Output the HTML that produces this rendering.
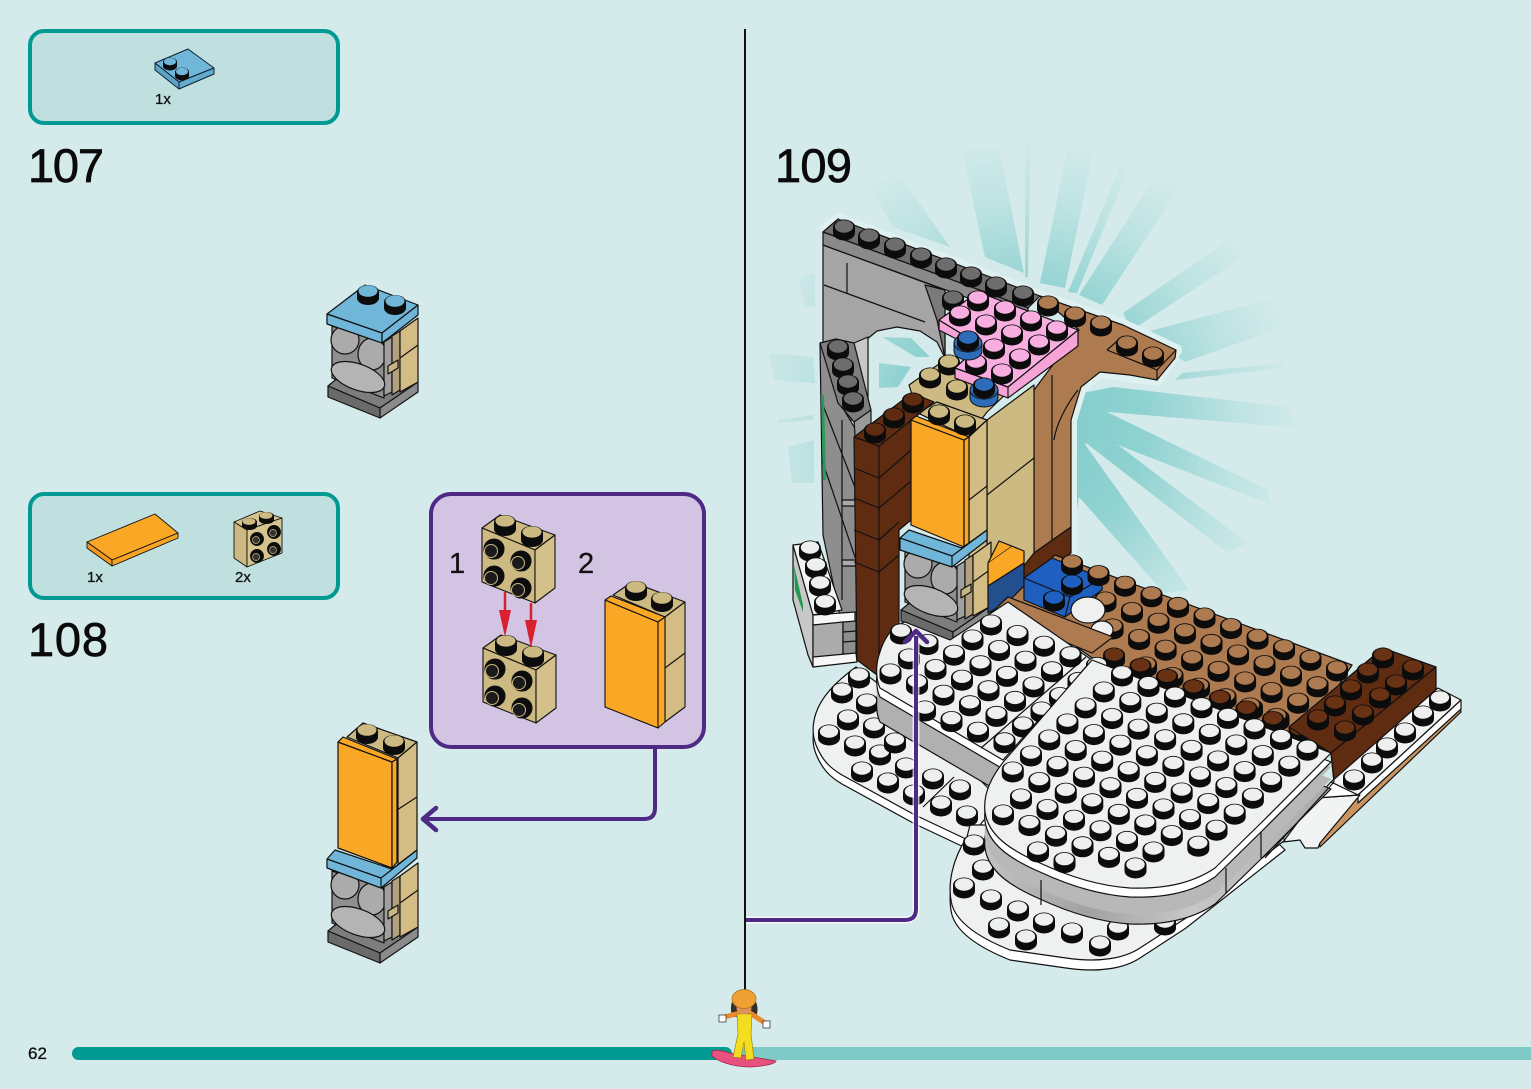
<!DOCTYPE html>
<html><head><meta charset="utf-8"><style>
html,body{margin:0;padding:0;background:#d4eaeb;}
svg{display:block;font-family:"Liberation Sans",sans-serif;}
</style></head><body>
<svg width="1531" height="1089" viewBox="0 0 1531 1089" xmlns="http://www.w3.org/2000/svg">
<defs>
<radialGradient id="ray" gradientUnits="userSpaceOnUse" cx="1020" cy="420" r="300">
<stop offset="0" stop-color="#7ecbca"/><stop offset=".42" stop-color="#8fd2d1"/><stop offset=".72" stop-color="#bde3e2"/><stop offset=".95" stop-color="#d4eaeb"/></radialGradient>
<linearGradient id="gw" gradientUnits="userSpaceOnUse" x1="980" y1="0" x2="1335" y2="0">
<stop offset="0" stop-color="#c4c4c4"/><stop offset=".3" stop-color="#a2a2a2"/><stop offset=".6" stop-color="#c8c8c8"/><stop offset="1" stop-color="#a8a8a8"/></linearGradient>
<g id="s"><path d="M-11,0v6a11,7.5 0 0 0 22,0v-6a11,7.5 0 0 0 -22,0z" fill="#0c0c0c"/><ellipse cy="-.5" rx="9.2" ry="6.2"/></g>
<g id="r2"><use href="#s"/><use href="#s" x="26.5" y="10.6"/></g>
<g id="r3"><use href="#r2"/><use href="#s" x="53" y="21.2"/></g>
<g id="r4"><use href="#r3"/><use href="#s" x="79.5" y="31.8"/></g>
<g id="r5"><use href="#r4"/><use href="#s" x="106" y="42.4"/></g>
<g id="r6"><use href="#r5"/><use href="#s" x="132.5" y="53"/></g>
<g id="r7"><use href="#r6"/><use href="#s" x="159" y="63.6"/></g>
<g id="r8"><use href="#r7"/><use href="#s" x="185.5" y="74.2"/></g>
<g id="r9"><use href="#r8"/><use href="#s" x="212" y="84.8"/></g>
<g id="r11"><use href="#r9"/><use href="#s" x="238.5" y="95.4"/><use href="#s" x="265" y="106"/></g>
<path id="Fp" d="M1331,753L1092,660L1005,760C990,778 983,795 985,812C988,835 1010,850 1040,863C1070,877 1100,886 1130,888C1160,889 1190,885 1215,868L1261,823Z"/>
<path id="Ep" d="M905,622L950,640L1008,602L1092,660L1003,760L880,688C876,680 875,665 880,652C885,635 895,625 905,622Z"/>
<path id="Gp" d="M967,837C952,860 947,885 952,905C958,925 985,940 1010,950L1066,958C1100,963 1125,958 1140,948L1186,918L1285,840L1270,825L970,825Z"/>
<path id="Hp" d="M856,667C838,680 822,695 816,713C812,725 812,735 816,745C822,760 830,768 842,775L915,815L968,840L1000,800L900,700Z"/>
<g id="stack" stroke="#111" stroke-width="1.2" stroke-linejoin="round">
<polygon points="328,386 340,376 418,382 380,408" fill="#7d7d7d"/>
<polygon points="328,386 380,408 380,418 328,397" fill="#6a6a6a"/>
<polygon points="380,408 418,382 418,392 380,418" fill="#8b8b8b"/>
<polygon points="332,326 384,343 384,398 332,378" fill="#8f8f8f"/>
<ellipse cx="345" cy="340" rx="14" ry="14" fill="#ababab"/>
<ellipse cx="372" cy="354" rx="14" ry="16" fill="#ababab"/>
<polygon points="384,342 392,337 392,392 384,396" fill="#a0a0a0"/>
<polygon points="392,336 400,331 400,390 392,395" fill="#b3a07c"/>
<polygon points="400,331 418,318 418,382 400,392" fill="#d4bd84"/>
<line x1="400" y1="358" x2="418" y2="345"/>
<polygon points="388,366 398,360 398,368 388,374" fill="#c8b586"/>
<ellipse cx="358" cy="377" rx="28" ry="13" transform="rotate(20 358 377)" fill="#b4b4b4"/>
</g>
<g id="brick" stroke="#111" stroke-width="1.1" stroke-linejoin="round">
<polygon points="482,528 500,515 555,535 535,550" fill="#cdb982"/>
<polygon points="482,528 535,550 535,603 482,582" fill="#cdb982"/>
<polygon points="535,550 555,535 555,588 535,603" fill="#d3c08a"/>
<g stroke="none"><path d="M494,522v7a11,7 0 0 0 22,0v-7a11,7 0 0 0 -22,0z" fill="#0c0c0c"/><ellipse cx="505" cy="521" rx="9.5" ry="5.6" fill="#cdb982"/><path d="M521,533v7a11,7 0 0 0 22,0v-7a11,7 0 0 0 -22,0z" fill="#0c0c0c"/><ellipse cx="532" cy="532" rx="9.5" ry="5.6" fill="#cdb982"/></g>
<g fill="#0c0c0c"><circle cx="494" cy="549" r="10"/><circle cx="521" cy="561" r="10"/><circle cx="494" cy="576" r="10"/><circle cx="521" cy="588" r="10"/></g>
<g fill="#1a1a1a" stroke="#cdb982" stroke-width="1"><circle cx="491" cy="551" r="6.5"/><circle cx="518" cy="563" r="6.5"/><circle cx="491" cy="578" r="6.5"/><circle cx="518" cy="590" r="6.5"/></g>
</g>
</defs>
<rect width="1531" height="1089" fill="#d4eaeb"/>

<!-- rays -->
<g fill="url(#ray)">
<polygon points="870,187 898,173 950,247 893,227"/>
<polygon points="962,150 999,147 1024,273 985,257"/>
<polygon points="1025,140 1031,140 1028,277 1025,277"/>
<polygon points="1068,147 1095,143 1065,288 1040,283"/>
<polygon points="1123,160 1132,160 1077,293 1068,292"/>
<polygon points="1155,177 1182,183 1102,305 1079,295"/>
<polygon points="1233,237 1249,253 1132,330 1123,313"/>
<polygon points="1279,297 1283,327 1185,362 1146,332"/>
<polygon points="1283,363 1283,368 1175,380 1182,373"/>
<polygon points="1072,395 1113,387 1288,407 1297,428 1109,412 1072,425"/>
<polygon points="1072,410 1109,413 1268,490 1272,505 1118,445 1086,443 1072,470"/>
<polygon points="1118,445 1247,543 1228,553 1086,443"/>
<polygon points="1072,450 1084,443 1189,590 1164,593 1079,497 1072,540"/>
<polygon points="769,353 813,357 815,383 774,380"/>
<polygon points="778,420 813,415 813,420 778,423"/>
<polygon points="788,447 814,440 814,483 792,483"/>
<polygon points="797,277 815,273 815,307 806,307"/>
<polygon points="879,363 911,367 898,387 879,388"/>
<polygon points="882,337 911,338 930,357 916,357"/>
</g>
<polyline points="823,232 838,219 1040,296 1123,325 1176,350 1157,380 1100,372 1081,387 1071,420 1071,560" fill="none" stroke="#dff0f0" stroke-width="12" stroke-linejoin="round"/>

<!-- page furniture: panels -->
<rect x="30" y="31" width="308" height="92" rx="14" fill="#bfe0df" stroke="#009a93" stroke-width="4"/>
<rect x="30" y="494" width="308" height="104" rx="14" fill="#bfe0df" stroke="#009a93" stroke-width="4"/>
<rect x="431" y="494" width="273" height="253" rx="20" fill="#d2c4e2" stroke="#4f2a84" stroke-width="4"/>

<g fill="#0a0a0a" stroke="#0a0a0a" stroke-width=".7">
<text x="28" y="182" font-size="47" textLength="76">107</text>
<text x="28" y="656" font-size="47" textLength="80">108</text>
<text x="775" y="182" font-size="47" textLength="77">109</text>
</g>
<g fill="#111" stroke="#111" stroke-width=".3">
<text x="28" y="1059" font-size="17">62</text>
<text x="155" y="104" font-size="15">1x</text>
<text x="87" y="582" font-size="15">1x</text>
<text x="235" y="582" font-size="15">2x</text>
<text x="449" y="573" font-size="29">1</text>
<text x="578" y="573" font-size="29">2</text>
</g>

<!-- parts 107 -->
<g stroke="#123" stroke-width="1" stroke-linejoin="round">
<polygon points="155,63 188,49 214,68 179,82" fill="#6fb6d8"/>
<polygon points="155,63 179,82 179,89 155,70" fill="#5da5c8"/>
<polygon points="179,82 214,68 214,74 179,89" fill="#62abcd"/>
<g stroke="none"><path d="M163,62v4a7,4.5 0 0 0 14,0v-4a7,4.5 0 0 0 -14,0z" fill="#0c0c0c"/><ellipse cx="170" cy="61.5" rx="6" ry="3.8" fill="#6fb6d8"/><path d="M175,72v4a7,4.5 0 0 0 14,0v-4a7,4.5 0 0 0 -14,0z" fill="#0c0c0c"/><ellipse cx="182" cy="71.5" rx="6" ry="3.8" fill="#6fb6d8"/></g>
</g>
<!-- parts 108 -->
<g stroke="#111" stroke-width=".9" stroke-linejoin="round">
<polygon points="87,542 155,514 178,533 112,560" fill="#fba726"/>
<polygon points="87,542 112,560 112,566 87,548" fill="#f29a1c"/>
<polygon points="112,560 178,533 178,538 112,566" fill="#f7a424"/>
<polygon points="234,522 260,511 282,518 247,530" fill="#d6c48f"/>
<polygon points="234,522 247,530 247,567 234,558" fill="#cdb982"/>
<polygon points="247,530 282,518 282,553 247,567" fill="#d6c48f"/>
<g stroke="none"><path d="M242,522v4a7.5,4 0 0 0 15,0v-4a7.5,4 0 0 0 -15,0z" fill="#0c0c0c"/><ellipse cx="249" cy="521.5" rx="6.5" ry="3.4" fill="#cdb982"/><path d="M259,516v4a7.5,4 0 0 0 15,0v-4a7.5,4 0 0 0 -15,0z" fill="#0c0c0c"/><ellipse cx="266" cy="515.5" rx="6.5" ry="3.4" fill="#cdb982"/></g>
<g fill="#0c0c0c"><circle cx="257" cy="539" r="6.5"/><circle cx="274" cy="532" r="6.5"/><circle cx="257" cy="556" r="6.5"/><circle cx="274" cy="549" r="6.5"/></g>
<g fill="#333" stroke="#cdb982" stroke-width=".7"><circle cx="256" cy="540" r="3.5"/><circle cx="273" cy="533" r="3.5"/><circle cx="256" cy="557" r="3.5"/><circle cx="273" cy="550" r="3.5"/></g>
</g>

<!-- step 107 assembly -->
<use href="#stack"/>
<g stroke="#111" stroke-width="1.2" stroke-linejoin="round">
<polygon points="327,314 365,285 418,305 382,333" fill="#6fb6d8"/>
<polygon points="327,314 382,333 382,343 327,324" fill="#6fb6d8"/>
<polygon points="382,333 418,305 418,315 382,343" fill="#6fb6d8"/>
<g stroke="none"><path d="M357,292v6a11,7 0 0 0 22,0v-6a11,7 0 0 0 -22,0z" fill="#0c0c0c"/><ellipse cx="368" cy="291" rx="9.5" ry="5.8" fill="#6fb6d8"/><path d="M384,302v6a11,7 0 0 0 22,0v-6a11,7 0 0 0 -22,0z" fill="#0c0c0c"/><ellipse cx="395" cy="301" rx="9.5" ry="5.8" fill="#6fb6d8"/></g>
</g>

<!-- step 108 assembly -->
<use href="#stack" y="545"/>
<g stroke="#111" stroke-width="1.2" stroke-linejoin="round">
<polygon points="347,737 363,723 417,742 398,758" fill="#cdb982"/>
<polygon points="398,758 417,742 417,850 398,866" fill="#d4bd84"/>
<line x1="397" y1="810" x2="417" y2="797"/>
<polygon points="338,742 392,762 392,868 338,848" fill="#fba726"/>
<polygon points="338,742 343,737 397,759 392,762" fill="#fba726"/>
<polygon points="392,762 397,759 397,862 392,868" fill="#fba726"/>
<polygon points="327,859 335,850 392,869 417,850 417,858 381,888 327,868" fill="#6fb6d8"/>
<polyline points="327,859 381,878 417,850" fill="none"/><line x1="381" y1="878" x2="381" y2="888"/>
<g stroke="none"><path d="M356,731v6a11,7 0 0 0 22,0v-6a11,7 0 0 0 -22,0z" fill="#0c0c0c"/><ellipse cx="367" cy="730" rx="9.5" ry="5.8" fill="#cdb982"/><path d="M383,742v6a11,7 0 0 0 22,0v-6a11,7 0 0 0 -22,0z" fill="#0c0c0c"/><ellipse cx="394" cy="741" rx="9.5" ry="5.8" fill="#cdb982"/></g>
</g>

<!-- callout -->
<use href="#brick"/>
<use href="#brick" x="1" y="120"/>
<g stroke="#d8202f" stroke-width="2.5" fill="#d8202f">
<line x1="505" y1="592" x2="505" y2="620"/><polygon points="499,610 511,610 505,637" stroke="none"/>
<line x1="531" y1="603" x2="531" y2="630"/><polygon points="525,620 537,620 531,648" stroke="none"/>
</g>
<g stroke="#111" stroke-width="1.1" stroke-linejoin="round">
<polygon points="613,595 632,582 685,602 665,617" fill="#cdb982"/>
<polygon points="665,617 685,602 685,707 665,722" fill="#d4bd84"/>
<line x1="665" y1="668" x2="685" y2="653"/>
<polygon points="605,600 658,622 658,728 605,707" fill="#fba726"/>
<polygon points="605,600 611,596 665,617 658,622" fill="#fba726"/>
<polygon points="658,622 665,617 665,722 658,728" fill="#fba726"/>
<g stroke="none"><path d="M625,588v6a11,7 0 0 0 22,0v-6a11,7 0 0 0 -22,0z" fill="#0c0c0c"/><ellipse cx="636" cy="587" rx="9.5" ry="5.8" fill="#cdb982"/><path d="M651,599v6a11,7 0 0 0 22,0v-6a11,7 0 0 0 -22,0z" fill="#0c0c0c"/><ellipse cx="662" cy="598" rx="9.5" ry="5.8" fill="#cdb982"/></g>
</g>
<path d="M655,749V808Q655,819 644,819H424" fill="none" stroke="#4f2a84" stroke-width="4"/>
<polyline points="436,808 423,819 436,830" fill="none" stroke="#4f2a84" stroke-width="4.5" stroke-linecap="round" stroke-linejoin="round"/>

<!-- step 109 model -->
<g stroke="#111" stroke-width="1.2" stroke-linejoin="round">
<!-- back wall -->
<polygon points="823,245 945,290 945,358 937,342 920,331 897,327 877,331 866,340 866,420 823,420" fill="#a5a5a5"/>
<polygon points="925,285 945,290 945,358 937,320" fill="#7a7a7a"/>
<line x1="847" y1="263" x2="847" y2="293"/><line x1="824" y1="285" x2="925" y2="322"/>
<polygon points="823,232 838,219 1040,296 1028,308" fill="#6d6d6d"/>
<polygon points="823,232 1028,308 1028,320 823,245" fill="#8a8a8a"/>
<!-- left column -->
<polygon points="854,343 868,337 868,398 860,400" fill="#c8c8c8"/>
<polygon points="820,343 838,400 856,430 858,660 845,640 823,535" fill="#8e8e8e"/>
<polygon points="854,420 871,410 871,445 856,450" fill="#9a9a9a"/>
<polygon points="820,343 836,339 854,343 871,410 854,422 838,403" fill="#7e7e7e"/>
<polyline points="821,400 856,490" fill="none"/><polyline points="822,460 856,560" fill="none"/>
<line x1="842" y1="420" x2="842" y2="600"/>
<polygon points="821,395 824,395 826,480 823,480" fill="#2a9a5a" stroke="none"/>
<rect x="842" y="500" width="14" height="6" fill="#aaa"/><rect x="842" y="560" width="14" height="6" fill="#aaa"/>
<!-- white block -->
<polygon points="793,545 813,615 813,667 808,655 793,600" fill="#c8c8c8"/>
<polygon points="794,565 803,605 803,612 795,590" fill="#1f9a4d" stroke="none"/>
<polygon points="793,545 818,542 842,610 813,615" fill="#f2f4f4"/>
<polygon points="813,615 855,612 855,622 813,625" fill="#f7f7f7"/>
<polygon points="813,625 843,622 843,655 813,658" fill="#ababab"/>
<polygon points="843,622 856,621 856,654 843,655" fill="#8e8e8e"/>
<line x1="843" y1="632" x2="856" y2="631"/><line x1="843" y1="642" x2="856" y2="641"/>
<polygon points="813,657 856,653 857,662 813,667" fill="#f7f7f7"/>
<!-- brown arch -->
<polygon points="1040,296 1123,325 1176,350 1175,358 1157,380 1130,375 1100,372 1081,387 1071,420 1071,527 1034,553 1034,390 1079,330" fill="#ae7a50"/>
<polyline points="1107,350 1157,370 1157,380" fill="none"/><line x1="1157" y1="370" x2="1176" y2="350"/><line x1="1107" y1="350" x2="1123" y2="336"/>
<line x1="1052" y1="375" x2="1052" y2="540"/>
<path d="M1078,390C1066,405 1056,425 1054,440" fill="none"/>
<polygon points="1024,560 1071,527 1071,553 1024,585" fill="#5f2c12"/>
<!-- tan block -->
<polygon points="987,420 1034,385 1034,553 987,613" fill="#cdb982"/>
<line x1="987" y1="495" x2="1034" y2="458"/>
<polygon points="969,437 987,420 987,613 969,620" fill="#d4bd84"/>
<polygon points="909,385 949,357 1010,390 987,412 968,437 918,413" fill="#cdb982"/>
<polygon points="918,413 937,402 987,420 968,437" fill="#cdb982"/>
<!-- dark brown column -->
<polygon points="854,437 912,393 934,402 911,420 911,520 899,530 899,625 880,655 877,675 857,660" fill="#5f2c12"/>
<polyline points="854,437 879,446 934,402" fill="none"/><line x1="879" y1="446" x2="879" y2="675"/>
<polyline points="854,468 879,478 910,451" fill="none"/><polyline points="854,498 879,508 910,482" fill="none"/>
<polyline points="854,530 879,540 899,522" fill="none"/><polyline points="854,562 879,572 899,555" fill="none"/>
<!-- orange -->
<polygon points="911,420 964,440 964,547 911,525" fill="#fba726"/>
<polygon points="964,440 969,437 969,545 964,548" fill="#fba726"/>
<polygon points="911,420 916,416 969,437 964,440" fill="#fba726"/>
<line x1="969" y1="500" x2="987" y2="486"/>
</g>
<use href="#stack" x="573" y="224"/>
<g stroke="#111" stroke-width="1.2" stroke-linejoin="round">
<polygon points="900,538 909,530 962,548 987,530 987,540 952,567 900,550" fill="#6fb6d8"/>
<polyline points="900,538 952,556 987,530" fill="none"/><line x1="952" y1="556" x2="952" y2="567"/>
<!-- small orange & blues -->
<polygon points="988,563 999,541 1024,551 1024,563 988,586" fill="#fba726"/>
<polyline points="988,563 1012,546" fill="none" stroke-width=".6"/>
<polygon points="988,586 1024,563 1024,593 988,613" fill="#234f8e"/>
<!-- brown plate -->
<polygon points="1055,555 1352,665 1300,745 1095,660 1010,600" fill="#ae7a50"/>
<polygon points="1024,578 1052,558 1102,578 1102,590 1065,617 1024,600" fill="#1e5fc0"/>
<polyline points="1024,578 1070,597 1102,578" fill="none"/><line x1="1070" y1="597" x2="1065" y2="617"/>
</g>
<g fill="#1e5fc0"><use href="#s" x="1072" y="582"/><use href="#s" x="1054" y="598"/></g>
<g fill="#ae7a50">
<use href="#r11" x="1072" y="562"/>
<use href="#r9" x="1105.5" y="599"/>
<use href="#r8" x="1112.6" y="626"/>
<use href="#r6" x="1146" y="664"/>
<use href="#r2" x="1250" y="705"/>
</g>
<g stroke="#111" stroke-width="1.2"><ellipse cx="1088" cy="610" rx="17" ry="13" fill="#f0f0f0"/><ellipse cx="1102" cy="630" rx="11" ry="9" fill="#f0f0f0"/></g>
<polygon points="1008,597 1113,637 1092,653 992,612" fill="#ae7a50" stroke="#111" stroke-width="1.2"/>
<g fill="#6a3214"><use href="#r9" x="1114" y="655"/></g>
<!-- dark brown end block -->
<g stroke="#111" stroke-width="1.2" stroke-linejoin="round">
<polygon points="1383,648 1436,667 1331,753 1289,727" fill="#5f2c12"/>
<polygon points="1436,667 1436,690 1334,782 1331,753" fill="#5f2c12"/>
</g>
<g fill="#6a3214"><use href="#s" x="1383" y="655"/><use href="#s" x="1413" y="667"/><use href="#s" x="1368" y="670"/><use href="#s" x="1396" y="682"/><use href="#s" x="1351" y="687"/><use href="#s" x="1380" y="695"/><use href="#s" x="1335" y="703"/><use href="#s" x="1363" y="712"/><use href="#s" x="1318" y="717"/><use href="#s" x="1345" y="728"/></g>
<!-- right white strip -->
<g stroke="#111" stroke-width="1.2" stroke-linejoin="round">
<polygon points="1461,712 1320,847 1318,835 1459,700" fill="#c9945f"/>
<polygon points="1461,700 1438,688 1331,782 1358,795" fill="#f2f4f4"/>
<polygon points="1461,700 1358,795 1358,803 1461,709" fill="#fff"/>
<polygon points="1283,842 1316,798 1360,795 1320,843 1318,848 1305,848 1300,840" fill="#f2f4f4"/>
<polygon points="1331,782 1358,795 1316,798" fill="#fff"/>
</g>
<g fill="#eef0f0"><use href="#s" x="1440" y="698"/><use href="#s" x="1423" y="713"/><use href="#s" x="1405" y="730"/><use href="#s" x="1387" y="745"/><use href="#s" x="1372" y="760"/><use href="#s" x="1354" y="777"/></g>

<!-- white block studs -->
<g fill="#eef0f0"><use href="#s" x="810" y="548"/><use href="#s" x="816" y="565"/><use href="#s" x="820" y="583"/><use href="#s" x="825" y="602"/></g>

<!-- lower plates -->
<g stroke="#111" stroke-width="1.2" stroke-linejoin="round">
<use href="#Hp" y="9" fill="#fff"/><use href="#Hp" fill="#eff1f1"/>
<use href="#Gp" y="10" fill="#fff"/><use href="#Gp" fill="#eff1f1"/>
<line x1="954" y1="777" x2="923" y2="807"/>
</g>
<g fill="#eef0f0">
<use href="#s" x="859" y="675"/><use href="#s" x="842" y="690"/><use href="#s" x="867" y="701"/><use href="#s" x="848" y="717"/><use href="#s" x="829" y="732"/><use href="#s" x="874" y="725"/><use href="#s" x="855" y="743"/><use href="#s" x="880" y="752"/><use href="#s" x="906" y="765"/><use href="#s" x="862" y="769"/><use href="#s" x="888" y="780"/><use href="#s" x="914" y="792"/><use href="#s" x="933" y="776"/><use href="#s" x="960" y="787"/><use href="#s" x="941" y="803"/><use href="#s" x="967" y="813"/><use href="#s" x="895" y="740"/>
<use href="#s" x="974" y="842"/><use href="#s" x="983" y="867"/><use href="#s" x="964" y="885"/><use href="#s" x="991" y="897"/><use href="#s" x="1018" y="908"/><use href="#s" x="1044" y="920"/><use href="#s" x="1072" y="930"/><use href="#s" x="1118" y="927"/><use href="#s" x="1165" y="922"/><use href="#s" x="999" y="925"/><use href="#s" x="1026" y="937"/><use href="#s" x="1100" y="943"/>
</g>
<!-- E plate -->
<g stroke-linejoin="round" stroke-width="1.2">
<use href="#Ep" y="34" fill="#b0b0b0" stroke="#111"/>
<use href="#Ep" y="20" fill="#b0b0b0"/>
<use href="#Ep" y="9" fill="#fff" stroke="#111"/>
<use href="#Ep" fill="#eff1f1" stroke="#111"/>
</g>
<line x1="981" y1="748" x2="1086" y2="657" stroke="#111" stroke-width="1.2"/>
<g fill="#eef0f0">
<use href="#r5" x="991" y="622"/><use href="#r5" x="972.5" y="637"/><use href="#r7" x="901" y="631"/><use href="#r6" x="909" y="656"/><use href="#r6" x="890.5" y="671"/><use href="#r4" x="925" y="708"/>
</g>
<!-- F plate -->
<g stroke-linejoin="round" stroke-width="1.2">
<use href="#Fp" y="36" fill="url(#gw)" stroke="#111"/>
<use href="#Fp" y="26" fill="#b8b8b8"/>
<use href="#Fp" y="14" fill="#b8b8b8"/>
<use href="#Fp" y="9" fill="#fff" stroke="#111"/>
<use href="#Fp" fill="#eff1f1" stroke="#111"/>
</g>
<g stroke="#111" stroke-width="1.2"><line x1="1041" y1="880" x2="1041" y2="905"/><line x1="1226" y1="868" x2="1226" y2="893"/><line x1="1261" y1="832" x2="1261" y2="858"/><line x1="1331" y1="753" x2="1334" y2="782"/><line x1="1334" y1="782" x2="1265" y2="858"/></g>
<g fill="#eef0f0">
<use href="#r8" x="1122" y="673"/><use href="#r8" x="1103.8" y="689"/><use href="#r8" x="1085.6" y="705"/><use href="#r8" x="1067.4" y="721"/><use href="#r8" x="1049.2" y="737"/><use href="#r8" x="1031" y="753"/><use href="#r8" x="1012.8" y="769"/><use href="#r6" x="1021" y="796"/><use href="#r6" x="1003" y="812"/><use href="#r2" x="1038" y="849"/>
</g>

<!-- top studs and pink -->
<g fill="#6d6d6d"><use href="#s" x="844" y="227"/><use href="#s" x="869" y="236"/><use href="#s" x="895" y="245"/><use href="#s" x="921" y="255"/><use href="#s" x="946" y="265"/><use href="#s" x="971" y="274"/><use href="#s" x="996" y="284"/><use href="#s" x="1023" y="293"/><use href="#s" x="953" y="298"/>
<use href="#s" x="838" y="347"/><use href="#s" x="843" y="365"/><use href="#s" x="848" y="382"/><use href="#s" x="853" y="399"/></g>
<g fill="#ae7a50"><use href="#s" x="1048" y="303"/><use href="#s" x="1075" y="314"/><use href="#s" x="1101" y="323"/><use href="#s" x="1127" y="343"/><use href="#s" x="1153" y="354"/></g>
<g fill="#cdb982"><use href="#s" x="930" y="375"/><use href="#s" x="949" y="362"/><use href="#s" x="957" y="387"/><use href="#s" x="939" y="412"/><use href="#s" x="965" y="422"/></g>
<g fill="#5f2c12"><use href="#s" x="875" y="430"/><use href="#s" x="894" y="415"/><use href="#s" x="913" y="400"/></g>
<g stroke="#111" stroke-width="1.2" stroke-linejoin="round">
<polygon points="1078,330 1078,346 1008,398 955,378 955,368 1008,387" fill="#f6a4d8"/>
<polygon points="939,320 939,330 968,345 980,345" fill="#f6a4d8"/>
<polygon points="939,320 978,292 1078,330 1008,387 955,368 980,345" fill="#f8aee0"/>
<line x1="1008" y1="387" x2="1008" y2="398"/>
</g>
<g fill="#f8aee0"><use href="#s" x="978" y="298"/><use href="#s" x="1005" y="308"/><use href="#s" x="1031" y="318"/><use href="#s" x="1057" y="328"/><use href="#s" x="960" y="313"/><use href="#s" x="986" y="322"/><use href="#s" x="1012" y="332"/><use href="#s" x="1039" y="342"/><use href="#s" x="994" y="346"/><use href="#s" x="1020" y="356"/><use href="#s" x="976" y="362"/><use href="#s" x="1002" y="371"/></g>
<g stroke="#111"><path d="M954,343v8a14,9 0 0 0 28,0v-8z" fill="#2d6cb8"/><ellipse cx="968" cy="343" rx="14" ry="9" fill="#2d6cb8"/><path d="M970,390v8a14,9 0 0 0 28,0v-8z" fill="#2d6cb8"/><ellipse cx="984" cy="390" rx="14" ry="9" fill="#2d6cb8"/></g>
<g fill="#2d6cb8"><use href="#s" x="968" y="338"/><use href="#s" x="984" y="385"/></g>

<!-- vertical divider & arrow -->
<line x1="745" y1="29" x2="745" y2="990" stroke="#111" stroke-width="2"/>
<path d="M746,920H905Q916,920 916,909V637" fill="none" stroke="#fff" stroke-width="7" opacity=".7"/>
<path d="M746,920H905Q916,920 916,909V636" fill="none" stroke="#4f2a84" stroke-width="4"/>
<polyline points="905,642 916,631 927,642" fill="none" stroke="#4f2a84" stroke-width="4.5" stroke-linecap="round" stroke-linejoin="round"/>

<!-- bottom bar -->
<rect x="740" y="1047" width="791" height="13" fill="#7ecac7"/>
<rect x="72" y="1047" width="660" height="13" rx="6.5" fill="#009a93"/>
<!-- minifig -->
<path d="M712,1052C713,1049 720,1050 730,1053L776,1061C775,1064 765,1066 750,1067C735,1067 718,1062 712,1056Z" fill="#e8507e" stroke="#a0254c" stroke-width=".8"/>
<path d="M732,1002C730,1008 731,1014 733,1017L756,1017C758,1012 758,1006 756,1002Z" fill="#33302c"/>
<path d="M740,1013L724,1017M750,1013L765,1023" fill="none" stroke="#ea8a2c" stroke-width="5" stroke-linecap="round"/>
<rect x="719" y="1015" width="7" height="7" fill="#fff" stroke="#222" stroke-width=".7"/>
<rect x="763" y="1021" width="7" height="7" fill="#fff" stroke="#222" stroke-width=".7"/>
<path d="M737,1014L752,1014L751,1034L754,1059L746,1060L744,1042L741,1058L733,1057L738,1034Z" fill="#f4dd1e" stroke="#8a7a10" stroke-width=".6"/>
<ellipse cx="744" cy="1008" rx="7.5" ry="6.5" fill="#d8925a"/>
<ellipse cx="744" cy="999" rx="12" ry="9.5" fill="#f0a030" stroke="#a86a14" stroke-width=".7"/>
</svg>
</body></html>
